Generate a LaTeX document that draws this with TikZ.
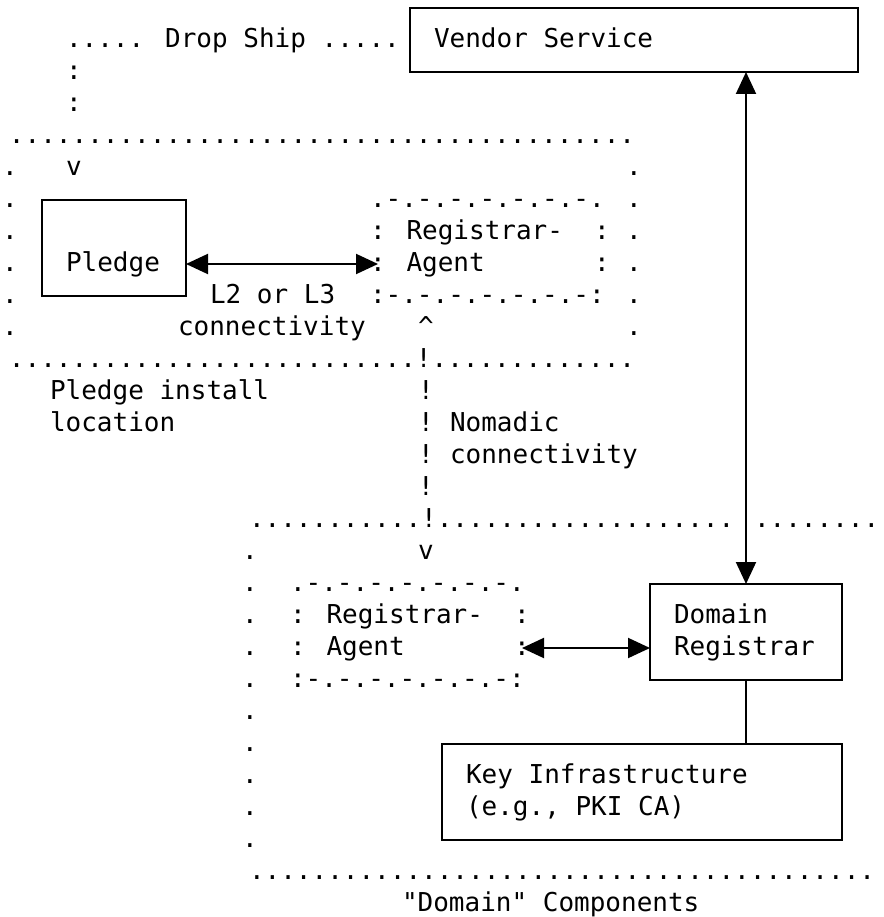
\documentclass[tikz,border=0pt]{standalone}
\usepackage{fontspec}
\usetikzlibrary{arrows.meta}
\newfontfamily\artmono{DejaVu Sans Mono}
\begin{document}
\begin{tikzpicture}[
  x={(16pt,0)}, y={(0,-32pt)}, shift={(10pt,-8pt)},
  art/.style={font=\artmono\fontsize{26pt}{32pt}\selectfont, anchor=base west,
    inner sep=0pt, outer sep=0pt, xshift=-8pt, yshift=-7.3pt},
  dotrow/.style={art, xshift=7pt},
  box/.style={draw, line width=2pt, inner sep=0pt, outer sep=0pt},
  link/.style={line width=2pt},
  arr/.style={link, {Triangle[length=22pt,width=20pt]}-{Triangle[length=22pt,width=20pt]}}
]
\useasboundingbox (-0.625,-0.25) rectangle (54.5625,28.40625);

% solid boxes (cell grid: column c, row r)
\node[box, minimum width=448pt, minimum height=64pt] (vendor) at (39,1) {};
\node[box, minimum width=144pt, minimum height=96pt] (pledge) at (6.5,7.5) {};
\node[box, minimum width=192pt, minimum height=96pt] (dr) at (46,19.5) {};
\node[box, minimum width=400pt, minimum height=96pt] (ki) at (39.5,24.5) {};

% box labels
\node[art] (tvendor) at (27,1) {Vendor Service};
\node[art] (tpledge) at (4,8) {Pledge};
\node[art] (tdr1) at (42,19) {Domain};
\node[art] (tdr2) at (42,20) {Registrar};
\node[art] (tki1) at (29,24) {Key Infrastructure};
\node[art] (tki2) at (29,25) {(e.g., PKI CA)};

% drop ship path
\node[art] (drop) at (4,1) {..... Drop Ship .....};
\node[art] (dsa) at (4,2) {:};
\node[art] (dsb) at (4,3) {:};

% pledge install location
\node[dotrow] (ptop) at (0,4) {........................................};
\node[art] (pv) at (4,5) {v};
\foreach \r in {5,...,10} {
  \node[art] (pl\r) at (0,\r) {.};
  \node[art] (pr\r) at (39,\r) {.};
}
\node[dotrow] (pbot) at (0,11) {..........................!.............};
\node[art] (ploc1) at (3,12) {Pledge install};
\node[art] (ploc2) at (3,13) {location};

% registrar-agent at the pledge site
\node[art] (ra1t) at (23,6) {.-.-.-.-.-.-.-.};
\node[art] (ra1a) at (23,7) {: Registrar-};
\node[art] (ra1b) at (37,7) {:};
\node[art] (ra1c) at (23,8) {: Agent};
\node[art] (ra1d) at (37,8) {:};
\node[art] (ra1u) at (23,9) {:-.-.-.-.-.-.-:};
\coordinate (ra1) at (23,8);
\node[art] (l2a) at (13,9) {L2 or L3};
\node[art] (l2b) at (11,10) {connectivity};
\node[art] (up) at (26,10) {\textasciicircum};

% nomadic connectivity
\foreach \r in {12,...,15} { \node[art] (nm\r) at (26,\r) {!}; }
\node[art] (nom1) at (28,13) {Nomadic};
\node[art] (nom2) at (28,14) {connectivity};

% domain components
\node[dotrow] (dtopa) at (15,16) {...........!...................};
\node[art] (dtopb) at (47,16) {........};
\node[art] (dv) at (26,17) {v};
\foreach \r in {17,...,26} { \node[art] (dl\r) at (15,\r) {.}; }
\node[dotrow] (dbot) at (15,27) {........................................};
\node[art] (dcap) at (25,28) {"Domain" Components};

% registrar-agent in the domain
\node[art] (ra2t) at (18,18) {.-.-.-.-.-.-.-.};
\node[art] (ra2a) at (18,19) {: Registrar-};
\node[art] (ra2b) at (32,19) {:};
\node[art] (ra2c) at (18,20) {: Agent};
\node[art] (ra2d) at (32,20) {:};
\node[art] (ra2u) at (18,21) {:-.-.-.-.-.-.-:};
\coordinate (ra2) at (32,20);

% connectors
\draw[arr] (pledge.east |- ra1) -- (ra1);
\draw[arr] (ra2) -- (ra2 -| dr.west);
\draw[arr] (vendor.south -| dr.north) -- (dr.north);
\draw[link] (dr.south) -- (dr.south |- ki.north);
\end{tikzpicture}
\end{document}
